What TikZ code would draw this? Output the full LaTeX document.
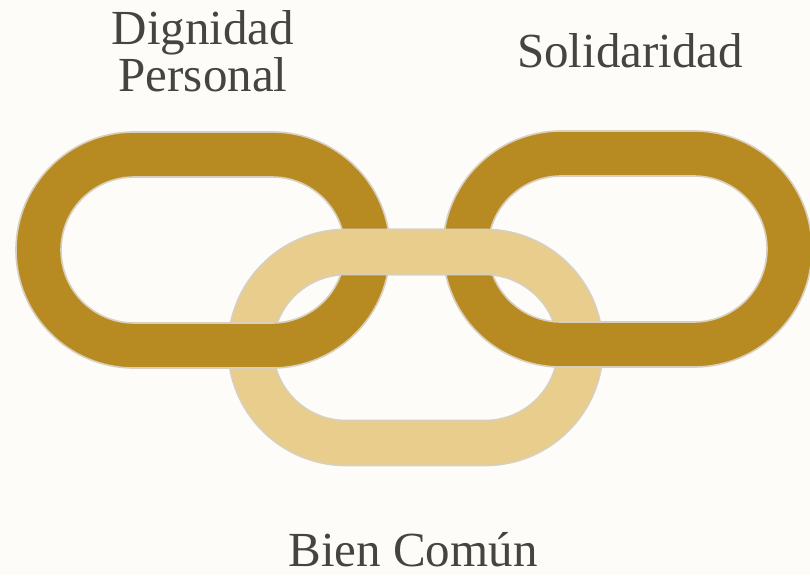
\documentclass[tikz,border=0pt]{standalone}
\usepackage{fontspec}
\setmainfont{Liberation Serif}
\definecolor{bgc}{HTML}{FDFCF8}
\definecolor{darkgold}{HTML}{B88B22}
\definecolor{lightgold}{HTML}{E8CD8C}
\definecolor{edgec}{HTML}{D8CFBD}
\definecolor{txtc}{HTML}{45443F}
\tikzset{
  linkdark/.style={fill=darkgold,draw=edgec,line width=1.6pt,even odd rule},
  linklight/.style={fill=lightgold,draw=edgec,line width=1.6pt,even odd rule},
  label/.style={text=txtc,font=\fontsize{49}{47}\selectfont,align=center,inner sep=0pt}
}
% stadium: cx1, cx2, cy, r
\newcommand{\stadiumpath}[4]{(#1,#3-#4) -- (#2,#3-#4) arc[start angle=-90,end angle=90,radius=#4] -- (#1,#3+#4) arc[start angle=90,end angle=270,radius=#4] -- cycle}
\newcommand{\ringpath}[3]{\stadiumpath{#1}{#2}{#3}{118} \stadiumpath{#1}{#2}{#3}{73}}
\begin{document}
\begin{tikzpicture}[x=1pt,y=-1pt]
\fill[bgc] (0,0) rectangle (810,575);
\useasboundingbox (0,0) rectangle (810,575);
% light (middle) link
\path[linklight] \ringpath{346}{485}{347.5};
% dark links
\path[linkdark] \ringpath{134}{272}{250};
\path[linkdark] \ringpath{561}{694}{249};
% light link again over the top crossings
\begin{scope}
\clip (200,200) rectangle (640,300);
\path[linklight] \ringpath{346}{485}{347.5};
\end{scope}
% labels
\node[label,anchor=base] (dp) at (203,92) {Dignidad\\Personal};
\node[label,anchor=base] (so) at (630,68) {Solidaridad};
\node[label,anchor=base] (bc) at (413,566) {Bien Común};
\end{tikzpicture}
\end{document}
